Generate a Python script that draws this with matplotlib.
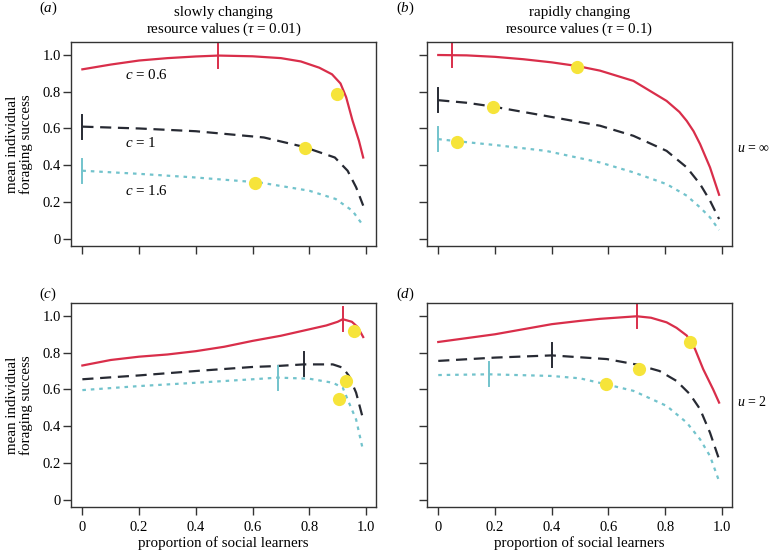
import numpy as np
import matplotlib
matplotlib.use("Agg")
import matplotlib.pyplot as plt

plt.rcParams["font.family"] = ["Liberation Serif", "DejaVu Serif"]
plt.rcParams["mathtext.fontset"] = "custom"
plt.rcParams["mathtext.rm"] = "Liberation Serif"
plt.rcParams["mathtext.it"] = "Liberation Serif:italic"

# panel (a): slowly changing, u = inf
a_red_x = [0, 0.1, 0.2, 0.3, 0.4, 0.48, 0.6, 0.7, 0.77, 0.835, 0.88, 0.91, 0.93, 0.952, 0.975, 0.99]
a_red_y = [0.922, 0.948, 0.97, 0.983, 0.992, 0.997, 0.993, 0.983, 0.965, 0.931, 0.895, 0.845, 0.77, 0.645, 0.533, 0.442]
a_blk_x = [0, 0.2, 0.4, 0.64, 0.78, 0.89, 0.935, 0.965, 0.99]
a_blk_y = [0.61, 0.6, 0.585, 0.551, 0.5, 0.442, 0.37, 0.28, 0.18]
a_cyn_x = [0, 0.2, 0.4, 0.625, 0.8, 0.893, 0.952, 0.99]
a_cyn_y = [0.37, 0.353, 0.333, 0.306, 0.261, 0.216, 0.152, 0.071]
a_peak = [0.478, 0.0, 0.0]
a_dot_x = [0.896, 0.785, 0.61]
a_dot_y = [0.79, 0.496, 0.305]

# panel (b): rapidly changing, u = inf
b_red_x = [0, 0.1, 0.2, 0.3, 0.4, 0.49, 0.57, 0.688, 0.805, 0.85, 0.876, 0.9, 0.923, 0.958, 0.99]
b_red_y = [1.0, 0.998, 0.99, 0.977, 0.96, 0.94, 0.915, 0.859, 0.75, 0.69, 0.641, 0.585, 0.515, 0.388, 0.239]
b_blk_x = [0, 0.1, 0.19, 0.38, 0.57, 0.688, 0.805, 0.876, 0.923, 0.958, 0.99]
b_blk_y = [0.754, 0.74, 0.72, 0.668, 0.615, 0.56, 0.478, 0.388, 0.297, 0.207, 0.107]
b_cyn_x = [0, 0.07, 0.2, 0.38, 0.57, 0.688, 0.805, 0.876, 0.923, 0.958, 0.99]
b_cyn_y = [0.542, 0.53, 0.51, 0.478, 0.415, 0.361, 0.297, 0.234, 0.17, 0.116, 0.047]
b_peak = [0.048, 0.0, 0.0]
b_dot_x = [0.488, 0.193, 0.066]
b_dot_y = [0.935, 0.719, 0.529]

# panel (c): slowly changing, u = 2
c_red_x = [0, 0.1, 0.2, 0.3, 0.4, 0.5, 0.6, 0.7, 0.8, 0.86, 0.9, 0.918, 0.95, 0.97, 0.99]
c_red_y = [0.73, 0.76, 0.778, 0.79, 0.808, 0.832, 0.864, 0.892, 0.927, 0.948, 0.968, 0.982, 0.968, 0.94, 0.885]
c_blk_x = [0, 0.2, 0.4, 0.6, 0.684, 0.78, 0.883, 0.918, 0.94, 0.965, 0.99]
c_blk_y = [0.655, 0.676, 0.70, 0.722, 0.727, 0.736, 0.736, 0.718, 0.673, 0.582, 0.436]
c_cyn_x = [0, 0.2, 0.4, 0.6, 0.69, 0.8, 0.883, 0.918, 0.94, 0.965, 0.99]
c_cyn_y = [0.596, 0.618, 0.636, 0.655, 0.664, 0.658, 0.636, 0.609, 0.527, 0.436, 0.264]
c_peak = [0.918, 0.78, 0.69]
c_dot_x = [0.959, 0.93, 0.906]
c_dot_y = [0.918, 0.645, 0.549]

# panel (d): rapidly changing, u = 2
d_red_x = [0, 0.2, 0.4, 0.5, 0.57, 0.7, 0.75, 0.805, 0.84, 0.876, 0.905, 0.934, 0.969, 0.99]
d_red_y = [0.858, 0.9, 0.955, 0.973, 0.984, 0.998, 0.99, 0.965, 0.935, 0.893, 0.82, 0.71, 0.6, 0.528]
d_blk_x = [0, 0.2, 0.4, 0.594, 0.7, 0.78, 0.84, 0.887, 0.923, 0.958, 0.99]
d_blk_y = [0.755, 0.773, 0.785, 0.765, 0.735, 0.70, 0.646, 0.574, 0.492, 0.364, 0.219]
d_cyn_x = [0, 0.18, 0.4, 0.5, 0.59, 0.688, 0.805, 0.876, 0.923, 0.958, 0.99]
d_cyn_y = [0.678, 0.682, 0.673, 0.66, 0.628, 0.592, 0.51, 0.419, 0.328, 0.237, 0.10]
d_peak = [0.70, 0.40, 0.18]
d_dot_x = [0.887, 0.708, 0.59]
d_dot_y = [0.86, 0.71, 0.628]

tick_lab = ["0", "0.2", "0.4", "0.6", "0.8", "1.0"]
tick_val = [0, 0.2, 0.4, 0.6, 0.8, 1.0]

red = "#d92e4a"
blk = "#272a33"
cyn = "#72c3cc"
yel = "#f6e43a"

fig = plt.figure(figsize=(7.72, 5.51), dpi=100)
w, h = 0.395, 0.370
ax_a = fig.add_axes([0.092, 0.5535, w, h])
ax_b = fig.add_axes([0.553, 0.5535, w, h])
ax_c = fig.add_axes([0.092, 0.080, w, h])
ax_d = fig.add_axes([0.553, 0.080, w, h])

panels = [
    (ax_a, a_red_x, a_red_y, a_blk_x, a_blk_y, a_cyn_x, a_cyn_y, a_peak, a_dot_x, a_dot_y),
    (ax_b, b_red_x, b_red_y, b_blk_x, b_blk_y, b_cyn_x, b_cyn_y, b_peak, b_dot_x, b_dot_y),
    (ax_c, c_red_x, c_red_y, c_blk_x, c_blk_y, c_cyn_x, c_cyn_y, c_peak, c_dot_x, c_dot_y),
    (ax_d, d_red_x, d_red_y, d_blk_x, d_blk_y, d_cyn_x, d_cyn_y, d_peak, d_dot_x, d_dot_y),
]

for ax, rx, ry, kx, ky, cx, cy, peak, dx, dy in panels:
    ax.plot(rx, ry, color=red, lw=1.6)
    ax.plot(kx, ky, color=blk, lw=1.6, dashes=(5, 3))
    ax.plot(cx, cy, color=cyn, lw=1.6, dashes=(1.6, 2.2))
    for px, xs, ys, col in zip(peak, [rx, kx, cx], [ry, ky, cy], [red, blk, cyn]):
        py = np.interp(px, xs, ys)
        ax.plot([px, px], [py - 0.065, py + 0.065], color=col, lw=1.4)
    ax.plot(dx, dy, "o", color=yel, ms=9.5, mec="none", zorder=5)
    ax.set_xlim(-0.04, 1.035)
    ax.set_ylim(-0.04, 1.07)
    ax.set_xticks(tick_val)
    ax.set_yticks(tick_val)
    ax.tick_params(direction="out", length=5.5, width=1, labelsize=10.5, color="#333333")
    ax.tick_params(axis="x", pad=4.5)
    ax.tick_params(axis="y", pad=2)
    for s in ax.spines.values():
        s.set_linewidth(1)
        s.set_color("#333333")

for ax in [ax_a, ax_c]:
    ax.set_yticklabels(tick_lab)
    ax.set_ylabel("mean individual\nforaging success", fontsize=10.8, linespacing=1.05)
    ax.yaxis.set_label_coords(-0.125, 0.5)
for ax in [ax_b, ax_d]:
    ax.set_yticklabels([])
for ax in [ax_c, ax_d]:
    ax.set_xticklabels(tick_lab)
    ax.set_xlabel("proportion of social learners", fontsize=10.8)
    ax.xaxis.set_label_coords(0.5, -0.145)
for ax in [ax_a, ax_b]:
    ax.set_xticklabels([])

ax_a.set_title("slowly changing\nresource values ($\\tau$ = 0.01)", fontsize=10.8, linespacing=1.1, pad=7)
ax_b.set_title("rapidly changing\nresource values ($\\tau$ = 0.1)", fontsize=10.8, linespacing=1.1, pad=7)

fig.text(0.051, 0.984, "($a$)", fontsize=10.8, va="center")
fig.text(0.513, 0.984, "($b$)", fontsize=10.8, va="center")
fig.text(0.051, 0.465, "($c$)", fontsize=10.8, va="center")
fig.text(0.513, 0.465, "($d$)", fontsize=10.8, va="center")

ax_a.text(0.151, 0.891, "$c$ = 0.6", fontsize=10.8, va="center")
ax_a.text(0.151, 0.523, "$c$ = 1", fontsize=10.8, va="center")
ax_a.text(0.151, 0.261, "$c$ = 1.6", fontsize=10.8, va="center")

fig.text(0.955, 0.731, "$u$ = ∞", fontsize=10, va="center")
fig.text(0.955, 0.270, "$u$ = 2", fontsize=10, va="center")

fig.savefig("out.png", dpi=100)
